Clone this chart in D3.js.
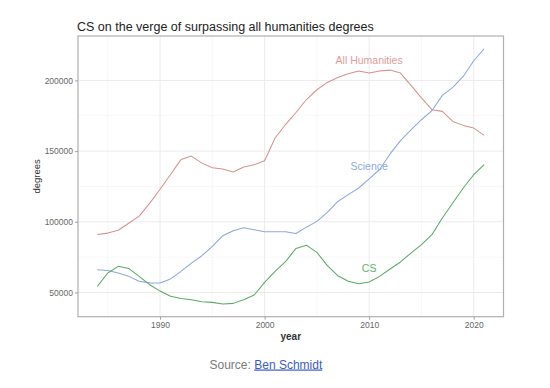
<!DOCTYPE html>
<html>
<head>
<meta charset="utf-8">
<script src="https://cdn.jsdelivr.net/npm/d3@7"></script>
<style>
  html, body { margin: 0; padding: 0; background: #ffffff; }
  svg { display: block; font-family: "Liberation Sans", Arial, sans-serif; }
</style>
</head>
<body>
<svg id="chart" width="550" height="388"></svg>
<script>
const years = [1984,1985,1986,1987,1988,1989,1990,1991,1992,1993,1994,1995,1996,1997,1998,1999,2000,2001,2002,2003,2004,2005,2006,2007,2008,2009,2010,2011,2012,2013,2014,2015,2016,2017,2018,2019,2020,2021];
const humanities = [91000,92000,94000,99000,104000,113000,123000,133500,144000,146500,141500,138300,137300,135200,138700,140300,143200,159300,168800,177300,186500,193400,198600,202100,204700,206600,205200,206600,207300,205200,196500,187600,179300,178100,171000,168200,166300,161100];
const science = [66100,65600,63800,61400,57900,56800,56700,59600,64900,70800,76000,82600,90200,93700,95800,94400,93000,93000,92900,91700,96200,100300,106600,114400,119200,123900,130300,137000,148000,157400,165100,172200,178600,189400,195100,202800,213900,222400];
const cs = [54300,63800,68500,67000,61400,55500,51000,47300,45800,44900,43500,43000,41900,42300,44900,48200,57100,64900,71800,81200,83500,78400,69000,61900,57900,56200,57400,61400,66600,71600,77900,83800,90900,102700,113300,123900,133300,140400];
const seriesNames = ["All Humanities", "Science", "CS"];
const labelYear = 2010;
const labelValues = [214600, 139200, 67500];
const xTicks = [1990, 2000, 2010, 2020];
const xMinor = [1985, 1995, 2005, 2015];
const yTicks = [50000, 100000, 150000, 200000];
const yMinor = [75000, 125000, 175000];
const title = "CS on the verge of surpassing all humanities degrees";
const xTitle = "year";
const yTitle = "degrees";

const colors = ["#d6918f", "#8ea8db", "#5aaa68"];
const labelColors = ["#e09c98", "#8eaadf", "#5fb06c"];
const seriesData = [humanities, science, cs];

const svg = d3.select("#chart");
const pL = 78, pR = 503.5, pT = 36, pB = 316.7;

const xExt = d3.extent(years);
const xPad = (xExt[1] - xExt[0]) * 0.05;
const allVals = humanities.concat(science, cs);
const yExt = d3.extent(allVals);
const yPad = (yExt[1] - yExt[0]) * 0.05;

const x = d3.scaleLinear().domain([xExt[0] - xPad, xExt[1] + xPad]).range([pL, pR]);
const y = d3.scaleLinear().domain([yExt[0] - yPad, yExt[1] + yPad]).range([pB, pT]);

// minor grid
const g = svg.append("g");
g.selectAll(".xminor").data(xMinor).enter().append("line")
  .attr("x1", d => x(d)).attr("x2", d => x(d)).attr("y1", pT).attr("y2", pB)
  .attr("stroke", "#f2f2f2").attr("stroke-width", 0.6);
g.selectAll(".yminor").data(yMinor).enter().append("line")
  .attr("y1", d => y(d)).attr("y2", d => y(d)).attr("x1", pL).attr("x2", pR)
  .attr("stroke", "#f2f2f2").attr("stroke-width", 0.6);
// major grid
g.selectAll(".xmajor").data(xTicks).enter().append("line")
  .attr("x1", d => x(d)).attr("x2", d => x(d)).attr("y1", pT).attr("y2", pB)
  .attr("stroke", "#ebebeb").attr("stroke-width", 1);
g.selectAll(".ymajor").data(yTicks).enter().append("line")
  .attr("y1", d => y(d)).attr("y2", d => y(d)).attr("x1", pL).attr("x2", pR)
  .attr("stroke", "#ebebeb").attr("stroke-width", 1);

// lines
const line = d3.line().x((d, i) => x(years[i])).y(d => y(d));
seriesData.forEach((s, k) => {
  svg.append("path").datum(s).attr("d", line)
    .attr("fill", "none").attr("stroke", colors[k]).attr("stroke-width", 1.05)
    .attr("stroke-linejoin", "round");
});

// labels
seriesNames.forEach((n, k) => {
  svg.append("text").attr("x", x(labelYear)).attr("y", y(labelValues[k]))
    .attr("text-anchor", "middle").attr("dominant-baseline", "central")
    .attr("font-size", 10.5).attr("fill", labelColors[k]).text(n);
});

// panel border
svg.append("rect").attr("x", pL).attr("y", pT).attr("width", pR - pL).attr("height", pB - pT)
  .attr("fill", "none").attr("stroke", "#b0b0b0").attr("stroke-width", 1.2);

// axes
const xAxis = d3.axisBottom(x).tickValues(xTicks).tickFormat(d3.format("d")).tickSize(3).tickPadding(2);
const yAxis = d3.axisLeft(y).tickValues(yTicks).tickFormat(d3.format("d")).tickSize(3).tickPadding(2);
const gx = svg.append("g").attr("transform", `translate(0,${pB})`).call(xAxis);
const gy = svg.append("g").attr("transform", `translate(${pL},0)`).call(yAxis);
[gx, gy].forEach(a => {
  a.select(".domain").remove();
  a.selectAll(".tick line").attr("stroke", "#a0a0a0").attr("stroke-width", 1);
  a.selectAll(".tick text").attr("fill", "#666666").attr("font-size", 8.5)
    .attr("font-family", "'Liberation Sans', Arial, sans-serif");
});

// titles
svg.append("text").attr("x", 77).attr("y", 30.5).attr("font-size", 12.5).attr("fill", "#222").text(title);
svg.append("text").attr("x", (pL + pR) / 2).attr("y", 339.5).attr("text-anchor", "middle")
  .attr("font-size", 10).attr("font-weight", "bold").attr("fill", "#333").text(xTitle);
svg.append("text").attr("transform", `translate(39.5,${(pT + pB) / 2}) rotate(-90)`)
  .attr("text-anchor", "middle").attr("font-size", 9.5).attr("fill", "#333").text(yTitle);

// source
const src = svg.append("text").attr("x", 209.5).attr("y", 368.5).attr("font-size", 12);
src.append("tspan").attr("fill", "#7a7a7a").text("Source: ");
src.append("tspan").attr("fill", "#3a5cc4").attr("text-decoration", "underline").text("Ben Schmidt");
</script>
</body>
</html>
